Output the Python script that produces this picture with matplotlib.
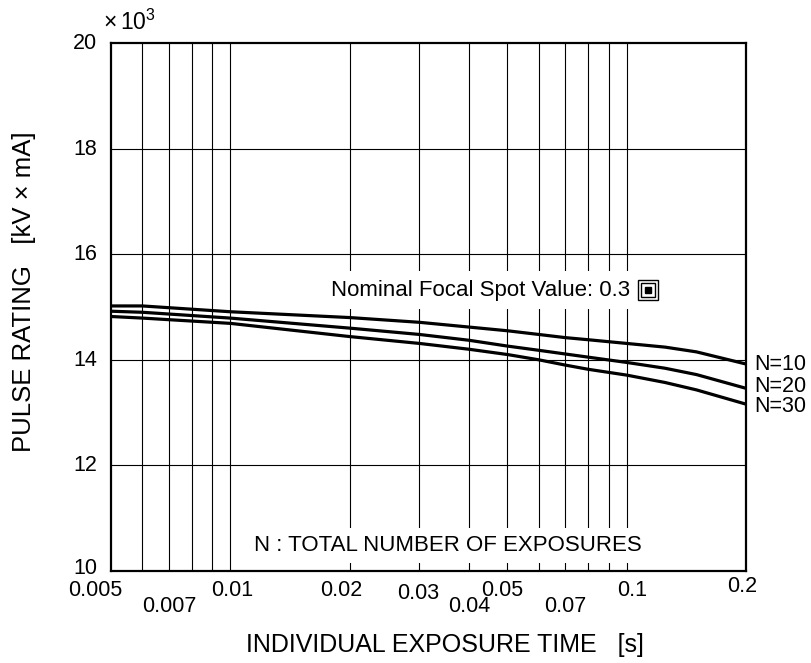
import numpy as np
import matplotlib
matplotlib.use("Agg")
import matplotlib.pyplot as plt
from matplotlib.transforms import ScaledTranslation, blended_transform_factory

plt.rcParams['font.family'] = ['Liberation Sans', 'DejaVu Sans']
plt.rcParams['mathtext.fontset'] = 'custom'
plt.rcParams['mathtext.rm'] = 'Liberation Sans'

# exposure time [s] and pulse rating [x10^3 kV*mA]
exposure_time = [0.005, 0.006, 0.01, 0.02, 0.03, 0.04, 0.05, 0.06, 0.07, 0.08, 0.1, 0.125, 0.15, 0.2]
rating_n10 = [15.02, 15.02, 14.91, 14.80, 14.71, 14.62, 14.55, 14.48, 14.42, 14.38, 14.31, 14.24, 14.15, 13.92]
rating_n20 = [14.92, 14.90, 14.79, 14.60, 14.48, 14.37, 14.26, 14.18, 14.11, 14.05, 13.95, 13.84, 13.72, 13.46]
rating_n30 = [14.82, 14.79, 14.69, 14.44, 14.31, 14.20, 14.10, 14.00, 13.90, 13.82, 13.71, 13.57, 13.43, 13.16]
series_names = ["N=10", "N=20", "N=30"]

xgrid = [0.006, 0.007, 0.008, 0.009, 0.01, 0.02, 0.03, 0.04, 0.05,
         0.06, 0.07, 0.08, 0.09, 0.1]
ygrid = [12, 14, 16, 18]
yticks = [10, 12, 14, 16, 18, 20]
xlabels_row1 = [0.005, 0.01, 0.02, 0.03, 0.05, 0.1, 0.2]
xlabels_row2 = [0.007, 0.04, 0.07]

# little nudges (pixels) of the hand-placed tick labels
row1_shift = {0.005: (-16, 0), 0.01: (2, 0), 0.02: (-8, 0), 0.03: (-1, -3),
              0.05: (-5, 0), 0.1: (5, 0), 0.2: (-4, 4)}

fig = plt.figure(figsize=(8.12, 6.63), dpi=100)
ax = fig.add_axes([111 / 812, 92 / 663, 635 / 812, 528 / 663])
ax.set_xscale('log')
ax.set_xlim(0.005, 0.2)
ax.set_ylim(10, 20)

for xv in xgrid:
    ax.axvline(xv, color='black', lw=0.8, zorder=1)
for yv in ygrid:
    ax.axhline(yv, color='black', lw=0.8, zorder=1)

for ys in (rating_n10, rating_n20, rating_n30):
    ax.plot(exposure_time, ys, color='black', lw=2.3, zorder=3,
            solid_joinstyle='round')

# end labels
label_dy = [0, -1, 2]
for name, ys, dy in zip(series_names, (rating_n10, rating_n20, rating_n30), label_dy):
    ax.annotate(name, xy=(exposure_time[-1], ys[-1]), xytext=(6, -dy),
                textcoords='offset points', ha='left', va='center',
                fontsize=15.5, annotation_clip=False)

ax.set_xticks([])
ax.set_xticks([], minor=True)
ax.set_yticks(yticks)
ax.set_yticklabels([str(v) for v in yticks])
ax.tick_params(axis='y', length=0, pad=10, labelsize=15.5)
for lab, v in zip(ax.get_yticklabels(), yticks):
    up = 5 if v == 10 else 2
    lab.set_transform(lab.get_transform() + ScaledTranslation(0, up / 100, fig.dpi_scale_trans))

trans = blended_transform_factory(ax.transData, ax.transAxes)
for v in xlabels_row1:
    dx, dy = row1_shift.get(v, (0, 0))
    t = trans + ScaledTranslation(dx / 100, (dy - 9) / 100, fig.dpi_scale_trans)
    ax.text(v, 0, f"{v:g}", transform=t, ha='center', va='top', fontsize=15.5)
for v in xlabels_row2:
    t = trans + ScaledTranslation(0, -25 / 100, fig.dpi_scale_trans)
    ax.text(v, 0, f"{v:g}", transform=t, ha='center', va='top', fontsize=15.5)

for s in ax.spines.values():
    s.set_linewidth(1.6)

fig.text(24 / 812, 1 - 292 / 663, "PULSE RATING   [kV × mA]", rotation=90,
         ha='center', va='center', fontsize=18.5)
fig.text(445 / 812, 1 - 645 / 663, "INDIVIDUAL EXPOSURE TIME   [s]",
         ha='center', va='center', fontsize=18)
fig.text(103 / 812, 1 - 22 / 663, r"$\times\,10^{3}$", ha='left', va='center', fontsize=16.5)

# annotations with white background
ax.add_patch(plt.Rectangle((0.099, 15.05), 0.026, 0.55, facecolor='white',
                           edgecolor='none', zorder=3.5))
ax.text(0.102, 15.32, "Nominal Focal Spot Value: 0.3", ha='right', va='center',
        fontsize=16, zorder=4,
        bbox=dict(facecolor='white', edgecolor='none', pad=6))
ax.plot([0.113], [15.32], marker='s', ms=15, mfc='white', mec='black', mew=1.0, zorder=5)
ax.plot([0.113], [15.32], marker='s', ms=9.5, mfc='white', mec='black', mew=1.0, zorder=5)
ax.plot([0.113], [15.32], marker='s', ms=4, mfc='black', mec='black', zorder=5)

ax.text(0.0353, 10.48, "N : TOTAL NUMBER OF EXPOSURES", ha='center', va='center',
        fontsize=16, zorder=4,
        bbox=dict(facecolor='white', edgecolor='none', pad=5))

fig.savefig("out.png", dpi=100)
